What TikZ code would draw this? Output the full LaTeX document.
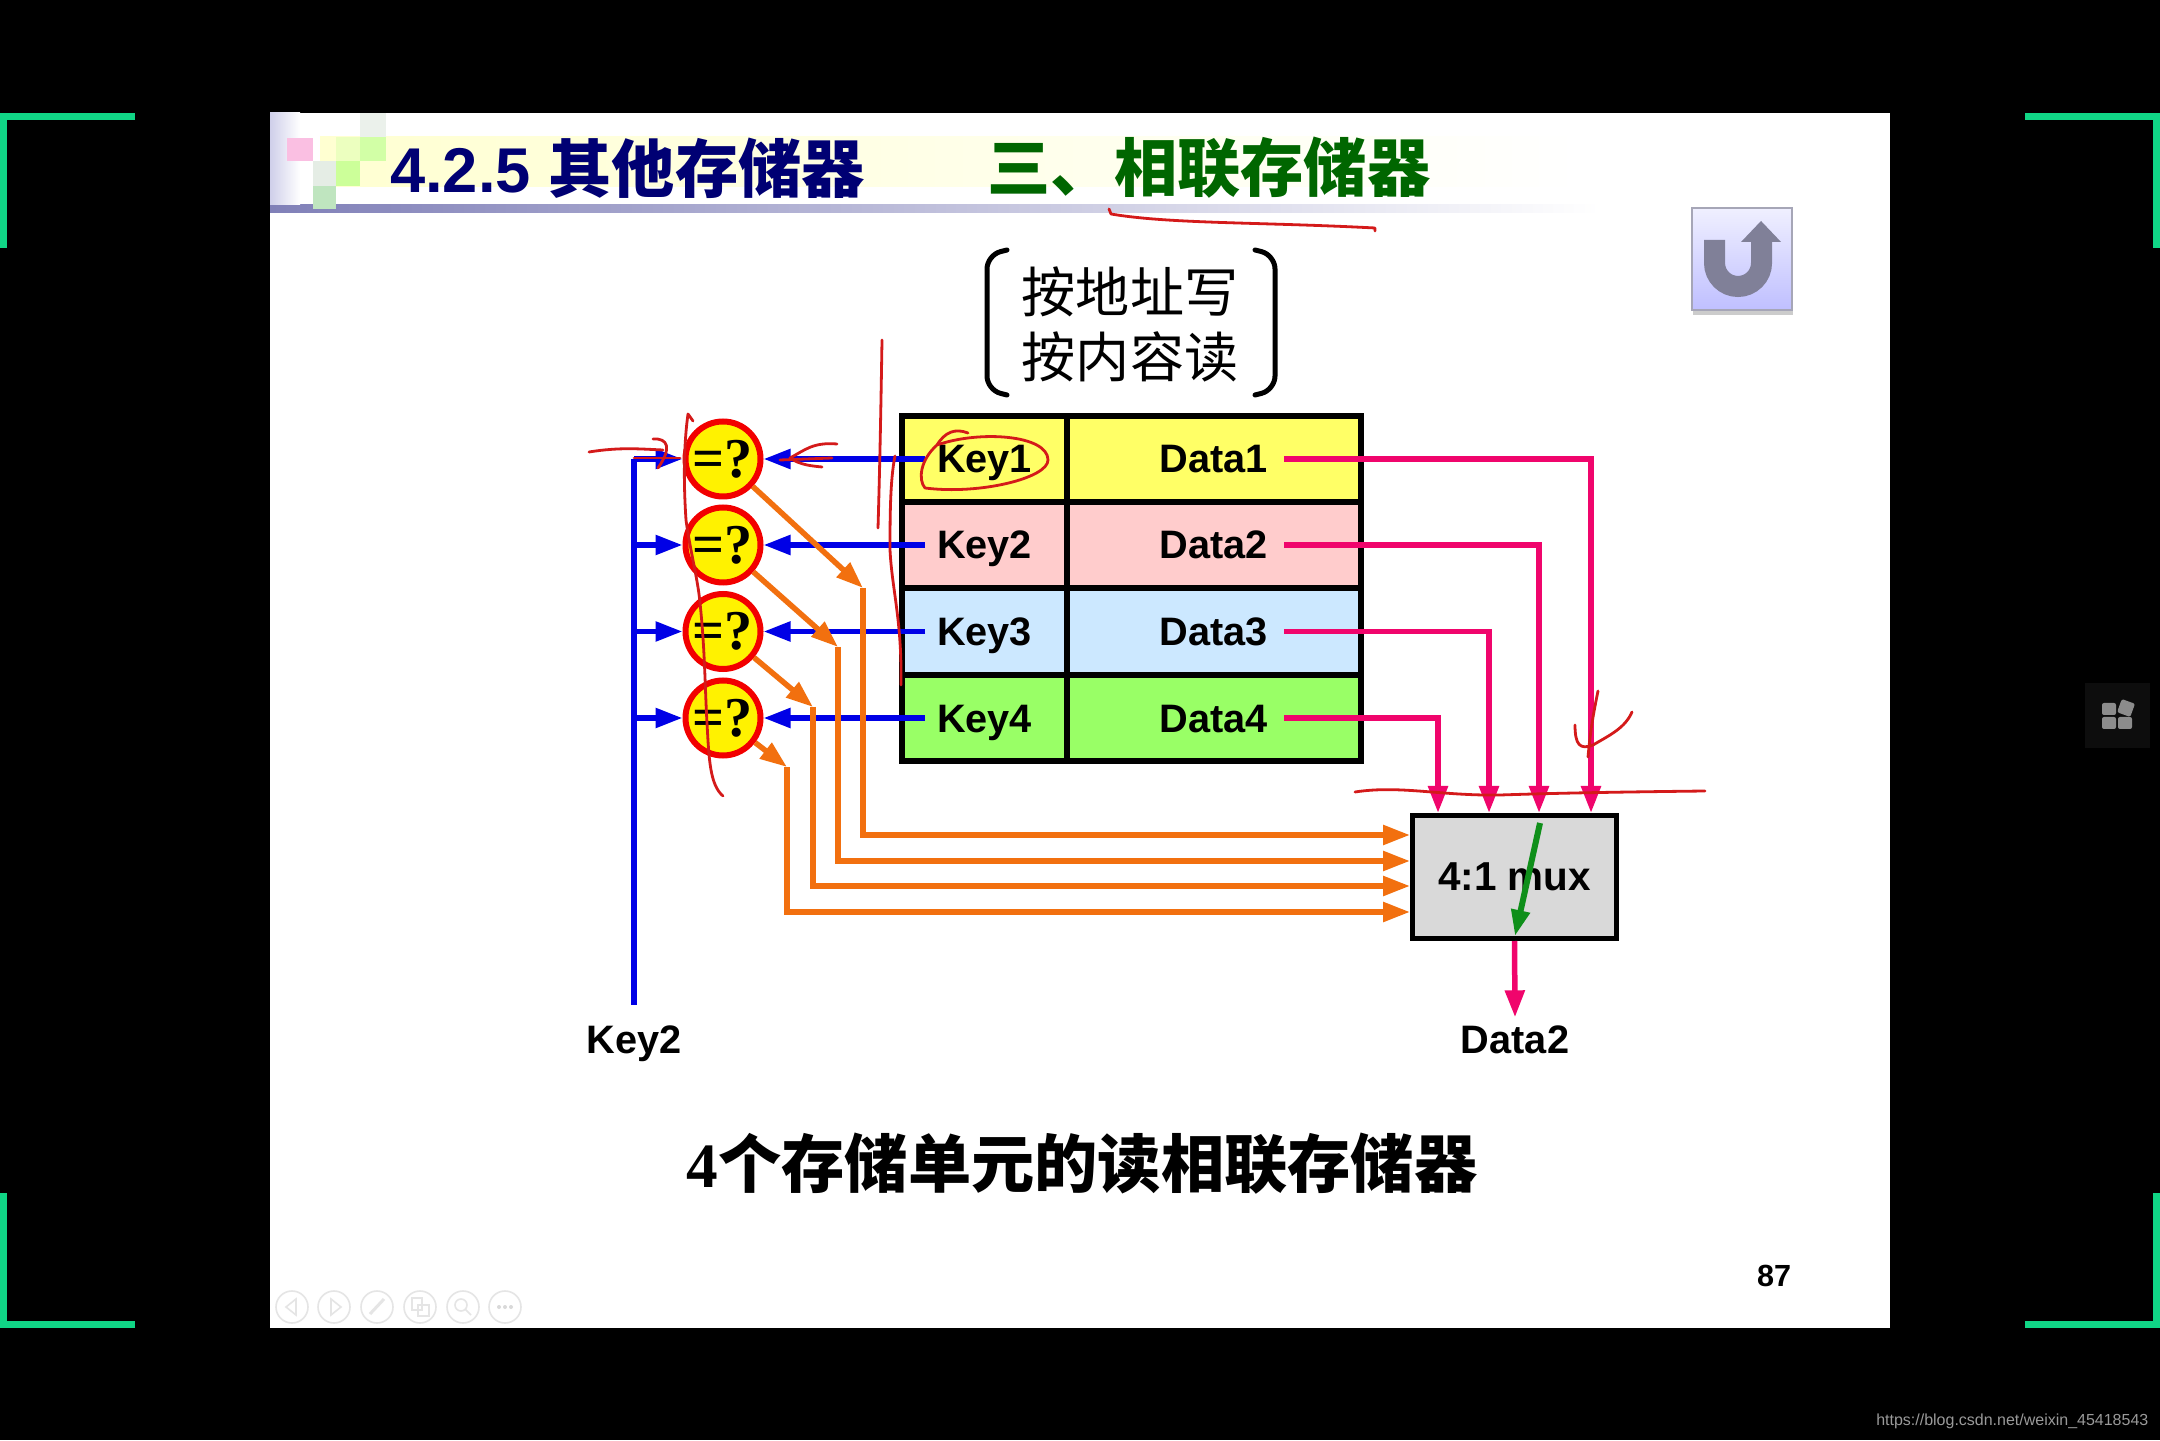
\documentclass[tikz,border=0pt]{standalone}
\usepackage{fontspec}
\setmainfont{Liberation Sans}
\newfontfamily\cjk{Noto Sans CJK SC}
\newfontfamily\serifbf{Liberation Serif}
\usetikzlibrary{arrows.meta}

\definecolor{blueline}{HTML}{0000E6}
\definecolor{orangeline}{HTML}{F2700F}
\definecolor{pinkline}{HTML}{F0056C}
\definecolor{greenline}{HTML}{0F8F1A}
\definecolor{inkred}{HTML}{D41A1A}
\definecolor{framegreen}{HTML}{10D686}
\definecolor{rowyellow}{HTML}{FFFF66}
\definecolor{rowpink}{HTML}{FFCCCC}
\definecolor{rowblue}{HTML}{CCE8FF}
\definecolor{rowgreen}{HTML}{99FF66}
\definecolor{barblue}{HTML}{8080B8}
\definecolor{sidelav}{HTML}{CFCFEA}
\definecolor{iconink}{HTML}{808098}

\tikzset{
	cell/.style={draw=black,line width=0.055cm,minimum height=0.86cm,inner sep=0,text height=0.28cm,text depth=0cm,font=\bfseries\fontsize{11.3pt}{13pt}\selectfont},
	cmp/.style={circle,draw=red!95!black,fill=yellow,line width=0.06cm,minimum size=0.75cm,inner sep=0,font=\serifbf\bfseries\fontsize{16pt}{18pt}\selectfont},
	muxbox/.style={draw=black,fill=black!15,line width=0.05cm,minimum width=2.04cm,minimum height=1.23cm,inner sep=0,font=\bfseries\fontsize{11.5pt}{13pt}\selectfont},
	lbl/.style={inner sep=0.07cm,text height=0.28cm,text depth=0cm,font=\bfseries\fontsize{11.3pt}{13pt}\selectfont},
	bluewire/.style={draw=blueline,line width=0.055cm},
	bluearrow/.style={bluewire,-{Triangle[length=0.27cm,width=0.19cm]}},
	orangearrow/.style={draw=orangeline,line width=0.055cm,-{Triangle[length=0.27cm,width=0.19cm]}},
	pinkarrow/.style={draw=pinkline,line width=0.055cm,-{Triangle[length=0.27cm,width=0.19cm]}},
	greenarrow/.style={draw=greenline,line width=0.06cm,-{Triangle[length=0.26cm,width=0.18cm]}},
	ink/.style={draw=inkred,line width=0.028cm,line cap=round,line join=round},
	frameline/.style={draw=framegreen,line width=0.067cm},
	softicon/.style={draw=black!10,line width=0.016cm},
}

\begin{document}
\begin{tikzpicture}

% screen and slide
\path [use as bounding box,fill=black] (0,0) rectangle (21.6,14.4);
\fill [white] (2.70,1.12) rectangle (18.90,13.27);

\draw [frameline] (1.35,13.235) -- (0.033,13.235) -- (0.033,11.92);
\draw [frameline] (1.35,1.155) -- (0.033,1.155) -- (0.033,2.47);
\draw [frameline] (20.25,13.235) -- (21.567,13.235) -- (21.567,11.92);
\draw [frameline] (20.25,1.155) -- (21.567,1.155) -- (21.567,2.47);

% title band
\shade [left color=yellow!18,right color=white] (3.20,12.53) rectangle (15.80,13.03);
\shade [left color=barblue,right color=white] (2.70,12.27) rectangle (16.00,12.35);
\shade [left color=sidelav,right color=white] (2.70,12.35) rectangle (3.00,13.27);
\fill [magenta!25] (2.87,12.79) rectangle (3.13,13.02);
\fill [green!30!yellow!25] (3.36,12.79) rectangle (3.60,13.03);
\fill [green!50!yellow!35] (3.60,12.79) rectangle (3.86,13.03);
\fill [green!30!black!8] (3.60,13.03) rectangle (3.86,13.27);
\fill [green!30!black!10] (3.13,12.54) rectangle (3.36,12.79);
\fill [green!50!yellow!40] (3.36,12.54) rectangle (3.60,12.79);
\fill [green!60!black!25] (3.13,12.31) rectangle (3.36,12.54);

\node (title1) at (6.275,12.72) {\color{blue!45!black}\bfseries\fontsize{18pt}{20pt}\selectfont 4.2.5 \cjk 其他存储器};
\node (title2) at (12.09,12.72) {\color{green!40!black}\cjk\bfseries\fontsize{18pt}{20pt}\selectfont 三、相联存储器};

\node (rule1) at (11.30,11.48) {\cjk\fontsize{15.4pt}{18.6pt}\selectfont 按地址写};
\node (rule2) at (11.30,10.83) {\cjk\fontsize{15.4pt}{18.6pt}\selectfont 按内容读};
\draw [line width=0.05cm,line cap=round,rounded corners=0.14cm] (10.07,11.90) -- (9.87,11.85) -- (9.87,10.50) -- (10.07,10.45);
\draw [line width=0.05cm,line cap=round,rounded corners=0.14cm] (12.55,11.90) -- (12.75,11.85) -- (12.75,10.50) -- (12.55,10.45);

% return button
\fill [black!20] (16.93,11.25) rectangle (17.93,11.30);
\shade [top color=blue!6,bottom color=blue!25,draw=iconink!70,line width=0.025cm] (16.92,11.30) rectangle (17.92,12.32);
\draw [draw=iconink,line width=0.21cm] (17.145,12.00) -- (17.145,11.77) arc (180:360:0.235) -- (17.615,11.98);
\fill [iconink] (17.41,11.98) -- (17.61,12.19) -- (17.81,11.98) -- cycle;

% memory cells
\node [cell,fill=rowyellow,minimum width=1.65cm] (key1) at (9.845,9.81) {Key1};
\node [cell,fill=rowpink,minimum width=1.65cm] (key2) at (9.845,8.95) {Key2};
\node [cell,fill=rowblue,minimum width=1.65cm] (key3) at (9.845,8.085) {Key3};
\node [cell,fill=rowgreen,minimum width=1.65cm] (key4) at (9.845,7.22) {Key4};

\node [cell,fill=rowyellow,minimum width=2.94cm] (data1) at (12.14,9.81) {Data1};
\node [cell,fill=rowpink,minimum width=2.94cm] (data2) at (12.14,8.95) {Data2};
\node [cell,fill=rowblue,minimum width=2.94cm] (data3) at (12.14,8.085) {Data3};
\node [cell,fill=rowgreen,minimum width=2.94cm] (data4) at (12.14,7.22) {Data4};

\node [cmp] (eq1) at (7.23,9.81) {=?};
\node [cmp] (eq2) at (7.23,8.95) {=?};
\node [cmp] (eq3) at (7.23,8.085) {=?};
\node [cmp] (eq4) at (7.23,7.22) {=?};

\node [muxbox] (mux) at (15.145,5.63) {4:1 mux};

\node [lbl] (keyin) at (6.34,4.01) {Key2};
\node [lbl] (dataout) at (15.15,4.01) {Data2};

\node [font=\bfseries\fontsize{8.7pt}{10pt}\selectfont,inner sep=0] (page) at (17.74,1.64) {87};

\node [font=\cjk\bfseries\fontsize{18pt}{20pt}\selectfont,inner sep=0] (caption) at (10.82,2.76) {{\serifbf 4}个存储单元的读相联存储器};

% search key bus
\coordinate (bus1) at (6.34,9.81);
\coordinate (bus2) at (6.34,8.95);
\coordinate (bus3) at (6.34,8.085);
\coordinate (bus4) at (6.34,7.22);
\coordinate (busend) at (6.34,4.35);

\path (bus1) edge [bluewire] (busend);
\path (bus1) edge [bluearrow] (eq1);
\path (bus2) edge [bluearrow] (eq2);
\path (bus3) edge [bluearrow] (eq3);
\path (bus4) edge [bluearrow] (eq4);

\path ([xshift=-0.595cm]key1.center) edge [bluearrow] (eq1);
\path ([xshift=-0.595cm]key2.center) edge [bluearrow] (eq2);
\path ([xshift=-0.595cm]key3.center) edge [bluearrow] (eq3);
\path ([xshift=-0.595cm]key4.center) edge [bluearrow] (eq4);

% match lines
\coordinate (tip1) at (8.63,8.52);
\coordinate (tip2) at (8.38,7.93);
\coordinate (tip3) at (8.13,7.33);
\coordinate (tip4) at (7.87,6.73);

\coordinate (sel1) at (14.10,6.05);
\coordinate (sel2) at (14.10,5.79);
\coordinate (sel3) at (14.10,5.54);
\coordinate (sel4) at (14.10,5.28);

\path (eq1) edge [orangearrow] (tip1);
\path (eq2) edge [orangearrow] (tip2);
\path (eq3) edge [orangearrow] (tip3);
\path (eq4) edge [orangearrow] (tip4);

\draw [orangearrow] (tip1) |- (sel1);
\draw [orangearrow] (tip2) |- (sel2);
\draw [orangearrow] (tip3) |- (sel3);
\draw [orangearrow] (tip4) |- (sel4);

% data lines
\coordinate (in1) at (15.91,6.27);
\coordinate (in2) at (15.39,6.27);
\coordinate (in3) at (14.89,6.27);
\coordinate (in4) at (14.38,6.27);

\draw [pinkarrow] ([xshift=0.70cm]data1.center) -| (in1);
\draw [pinkarrow] ([xshift=0.70cm]data2.center) -| (in2);
\draw [pinkarrow] ([xshift=0.70cm]data3.center) -| (in3);
\draw [pinkarrow] ([xshift=0.70cm]data4.center) -| (in4);

\path (mux.south) edge [pinkarrow] (dataout.north);

\coordinate (gfrom) at (15.40,6.17);
\coordinate (gto) at (15.15,5.04);
\path (gfrom) edge [greenarrow] (gto);

% handwriting
\draw [ink] (11.09,12.31) -- (11.11,12.26) .. controls (11.7,12.16) and (12.6,12.18) .. (13.75,12.12) -- (13.75,12.09);
\draw [ink] (8.82,11.00) .. controls (8.81,10.4) and (8.80,9.8) .. (8.78,9.12);
\draw [ink] (8.95,9.84) .. controls (8.90,9.6) and (8.90,9.2) .. (8.90,8.9) .. controls (8.92,8.5) and (9.02,8.2) .. (9.01,7.55);
\draw [ink] (6.93,10.19) -- (6.88,10.26) .. controls (6.83,9.9) and (6.84,9.5) .. (6.86,9.2) .. controls (6.90,8.9) and (6.98,8.6) .. (7.00,8.37) .. controls (7.05,7.9) and (7.05,7.5) .. (7.07,7.17) .. controls (7.09,6.8) and (7.10,6.55) .. (7.23,6.44);
\draw [ink] (5.89,9.88) .. controls (6.2,9.93) and (6.4,9.91) .. (6.63,9.90);
\draw [ink] (6.53,10.01) .. controls (6.68,10.02) and (6.72,9.92) .. (6.58,9.72);
\draw [ink] (6.34,9.82) -- (6.80,9.82);
\draw [ink] (8.32,9.82) -- (7.80,9.80);
\draw [ink] (8.37,9.96) .. controls (8.13,9.98) and (8.05,9.90) .. (7.90,9.82) .. controls (8.0,9.75) and (8.12,9.74) .. (8.22,9.73);
\draw [ink] (9.37,9.95) .. controls (9.45,10.08) and (9.55,10.12) .. (9.68,10.07);
\draw [ink] (9.37,9.95) .. controls (9.8,10.10) and (10.48,10.05) .. (10.48,9.80) .. controls (10.48,9.62) and (9.8,9.45) .. (9.25,9.52) .. controls (9.18,9.60) and (9.20,9.80) .. (9.37,9.95);
\draw [ink] (13.55,6.48) .. controls (14.0,6.55) and (14.4,6.44) .. (15.0,6.45) .. controls (15.6,6.47) and (16.2,6.48) .. (17.05,6.49);
\draw [ink] (15.98,7.49) .. controls (15.92,7.2) and (15.90,7.05) .. (15.88,6.83);
\draw [ink] (15.75,7.15) .. controls (15.75,6.95) and (15.80,6.90) .. (15.93,6.95) .. controls (16.1,7.05) and (16.25,7.12) .. (16.32,7.28);

% player buttons
\draw [softicon] (2.92,1.33) circle (0.16);
\draw [softicon] (3.34,1.33) circle (0.16);
\draw [softicon] (3.77,1.33) circle (0.16);
\draw [softicon] (4.20,1.33) circle (0.16);
\draw [softicon] (4.63,1.33) circle (0.16);
\draw [softicon] (5.05,1.33) circle (0.16);
\draw [softicon] (2.96,1.25) -- (2.86,1.33) -- (2.96,1.41) -- cycle;
\draw [softicon] (3.31,1.25) -- (3.41,1.33) -- (3.31,1.41) -- cycle;
\draw [softicon,line width=0.03cm] (3.70,1.26) -- (3.84,1.41);
\draw [softicon] (4.12,1.30) rectangle (4.22,1.42);
\draw [softicon] (4.18,1.24) rectangle (4.29,1.35);
\draw [softicon] (4.61,1.35) circle (0.06);
\draw [softicon] (4.65,1.31) -- (4.71,1.25);
\fill [black!15] (4.99,1.33) circle (0.02) (5.05,1.33) circle (0.02) (5.11,1.33) circle (0.02);

% side tile and address
\fill [black!95] (20.85,6.92) rectangle (21.50,7.57);
\fill [black!45,rounded corners=0.02cm] (21.02,7.25) rectangle (21.16,7.37);
\fill [black!45,rounded corners=0.02cm] (21.02,7.11) rectangle (21.16,7.23);
\fill [black!45,rounded corners=0.02cm] (21.18,7.11) rectangle (21.32,7.23);
\fill [black!45,rounded corners=0.02cm,rotate around={-20:(21.26,7.32)}] (21.19,7.25) rectangle (21.33,7.39);

\node [font=\fontsize{4.55pt}{6pt}\selectfont,text=black!40,anchor=east,inner sep=0] (url) at (21.49,0.19) {https://blog.csdn.net/weixin\_45418543};

\end{tikzpicture}
\end{document}
